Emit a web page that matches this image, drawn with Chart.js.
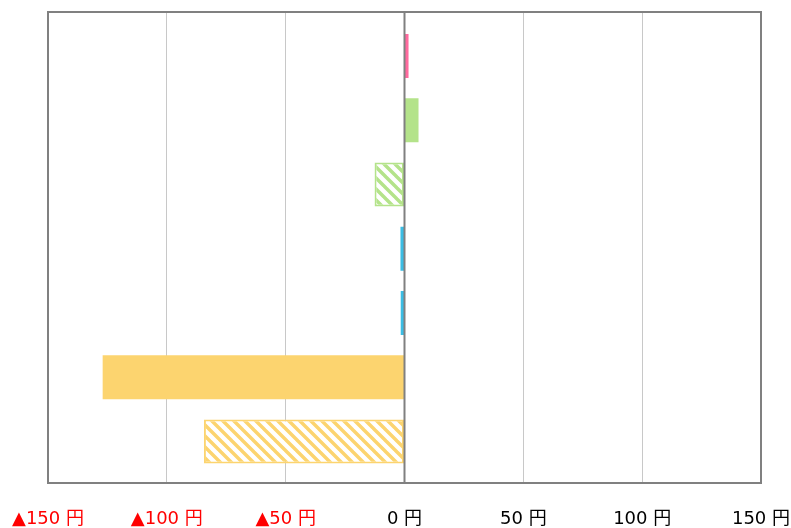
<!DOCTYPE html>
<html><head><meta charset="utf-8">
<script src="https://cdn.jsdelivr.net/npm/chart.js@4"></script>
<style>html,body{margin:0;padding:0;background:#fff}#wrap{width:791px;height:528px}</style>
</head><body><div id="wrap"><canvas id="c" width="791" height="528"></canvas></div>
<script>
const categories = ['項目1', '項目2', '項目3', '項目4', '項目5', '項目6', '項目7'];
const values = [1.7, 5.9, -12.6, -1.7, -1.7, -127, -84.4];
const barColors = ['#ff6a9e', '#b4e38a', '#b4e38a', '#3bbde4', '#3bbde4', '#fcd46f', '#fcd46f'];
const hatched = [false, false, true, false, true, false, true];
const tickValues = [-150, -100, -50, 0, 50, 100, 150];

function makePattern(color) {
  const s = 11;
  const c = document.createElement('canvas');
  c.width = s; c.height = s;
  const g = c.getContext('2d');
  g.fillStyle = '#fff'; g.fillRect(0, 0, s, s);
  g.strokeStyle = color; g.lineWidth = 3.5;
  g.beginPath();
  for (let k = -1; k <= 1; k++) {
    g.moveTo(k * s - 1, -1); g.lineTo(k * s + s + 1, s + 1);
  }
  g.stroke();
  return g.createPattern(c, 'repeat');
}

const bg = barColors.map((c, i) => hatched[i] ? makePattern(c) : c);
const points = values.map((v, i) => ({ x: v, y: i }));

const framePlugin = {
  id: 'frame',
  afterDatasetsDraw(chart) {
    const a = chart.chartArea, ctx = chart.ctx;
    ctx.save();
    ctx.strokeStyle = '#808080'; ctx.lineWidth = 2;
    ctx.strokeRect(a.left, a.top, a.right - a.left, a.bottom - a.top);
    const x0 = chart.scales.x.getPixelForValue(0);
    ctx.beginPath(); ctx.moveTo(x0, a.top); ctx.lineTo(x0, a.bottom); ctx.stroke();
    ctx.restore();
  }
};

new Chart(document.getElementById('c'), {
  type: 'bar',
  data: {
    labels: categories,
    datasets: [{
      data: points,
      backgroundColor: bg,
      borderColor: barColors,
      borderWidth: hatched.map(h => h ? 2 : 0),
      borderSkipped: false,
      categoryPercentage: 1,
      barPercentage: 0.685
    }]
  },
  options: {
    indexAxis: 'y',
    responsive: false,
    animation: false,
    devicePixelRatio: 1,
    layout: { padding: { left: 48, right: 30, top: 12, bottom: 0 } },
    plugins: { legend: { display: false }, tooltip: { enabled: false } },
    scales: {
      x: {
        min: -150, max: 150,
        afterBuildTicks(scale) { scale.ticks = tickValues.map(v => ({ value: v })); },
        afterFit(scale) { scale.paddingLeft = 0; scale.paddingRight = 0; scale.height = 45; },
        grid: { color: '#c8c8c8', lineWidth: 1, drawTicks: false },
        border: { display: false },
        ticks: {
          padding: 26,
          font: { family: "'DejaVu Sans', 'Noto Sans CJK JP', sans-serif", size: 18 },
          color: ctx => ctx.tick && ctx.tick.value < 0 ? '#ff0000' : '#000000',
          callback: v => v < 0 ? '▲' + Math.abs(v) + ' 円' : v + ' 円',
          maxRotation: 0, autoSkip: false
        }
      },
      y: {
        type: 'linear',
        reverse: true,
        offset: false,
        grid: { offset: false },
        min: -0.685,
        max: 6.646,
        afterBuildTicks(scale) { scale.ticks = categories.map((_, i) => ({ value: i })); },
        display: false
      }
    }
  },
  plugins: [framePlugin]
});
</script>
</body></html>
